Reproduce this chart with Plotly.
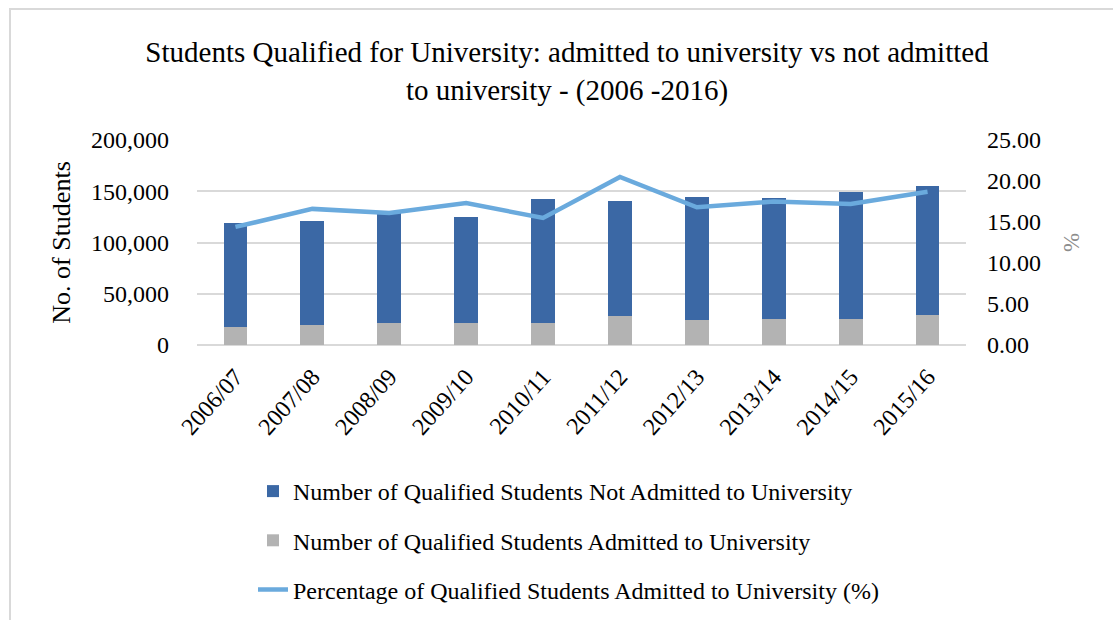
import plotly.graph_objects as go

years = ["2006/07", "2007/08", "2008/09", "2009/10", "2010/11",
         "2011/12", "2012/13", "2013/14", "2014/15", "2015/16"]
not_admitted = [102000, 101400, 107900, 103300, 120300, 112000, 119900, 118000, 123500, 125800]
admitted = [17500, 19500, 21100, 21700, 21700, 28600, 24400, 25300, 25300, 29200]
pct_admitted = [14.4, 16.6, 16.1, 17.3, 15.5, 20.5, 16.8, 17.5, 17.2, 18.7]

W, H = 1113, 620
ML, MR, MT, MB = 197, 147, 140, 275
PW, PH = W - ML - MR, H - MT - MB

FONT = "Liberation Serif"
BLUE = "#3b68a5"
GRAY = "#b3b3b3"
LINE = "#6aaadd"
GRID = "#d9d9d9"

def px_x(x):
    return (x - ML) / PW

def px_y(y):
    return (H - MB - y) / PH

fig = go.Figure()
fig.add_trace(go.Bar(
    x=years, y=admitted, name="Number of Qualified Students Admitted to University",
    marker=dict(color=GRAY, line=dict(width=0)), legendrank=2, legendgroup="b",
))
fig.add_trace(go.Bar(
    x=years, y=not_admitted, name="Number of Qualified Students Not Admitted to University",
    marker=dict(color=BLUE, line=dict(width=0)), legendrank=1, legendgroup="a",
))
fig.add_trace(go.Scatter(
    x=years, y=pct_admitted, yaxis="y2", mode="lines",
    name="Percentage of Qualified Students Admitted to University (%)",
    line=dict(color=LINE, width=4.5), legendrank=3, legendgroup="c",
))

fig.update_layout(
    width=W, height=H,
    margin=dict(l=ML, r=MR, t=MT, b=MB, autoexpand=False),
    paper_bgcolor="white", plot_bgcolor="white",
    barmode="stack", bargap=0.69,
    font=dict(family=FONT, color="black", size=24),
    title=dict(
        text="Students Qualified for University: admitted to university vs not admitted<br>to university - (2006 -2016)",
        x=567 / W, xanchor="center", xref="container",
        y=1 - 62 / H, yanchor="middle", yref="container",
        font=dict(family=FONT, size=29, color="black"),
    ),
    xaxis=dict(
        tickangle=-48, showgrid=False, showline=False, ticks="",
        tickfont=dict(size=24), automargin=False, ticklabelstandoff=12,
    ),
    yaxis=dict(
        range=[0, 200000], dtick=50000, tickformat=",d",
        showgrid=True, gridcolor=GRID, gridwidth=1.5,
        zeroline=True, zerolinecolor=GRID, zerolinewidth=1.5,
        showline=False, ticks="", ticklabelstandoff=27,
        tickfont=dict(size=24), automargin=False,
        title=dict(text="No. of Students", font=dict(size=26), standoff=12),
    ),
    yaxis2=dict(
        range=[0, 25], dtick=5, tickformat=".2f", overlaying="y", side="right",
        showgrid=False, zeroline=False, showline=False, ticks="",
        ticklabelstandoff=20, tickfont=dict(size=24), automargin=False,
        title=dict(text="%", font=dict(size=23, color="#8c8c8c"), standoff=22),
    ),
    legend=dict(
        orientation="v", x=px_x(253), xanchor="left", y=px_y(469), yanchor="top",
        font=dict(size=24), tracegroupgap=15, traceorder="grouped",
        bgcolor="rgba(0,0,0,0)",
    ),
    shapes=[dict(
        type="rect", xref="paper", yref="paper",
        x0=px_x(10), x1=px_x(1130), y0=px_y(640), y1=px_y(9),
        line=dict(color=GRID, width=2), fillcolor="rgba(0,0,0,0)", layer="below",
    )],
)

fig.write_html("out.html")
